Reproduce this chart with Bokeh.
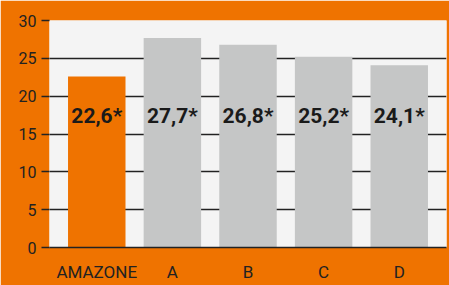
from bokeh.plotting import figure
from bokeh.models import ColumnDataSource, FactorRange, FixedTicker
from bokeh.core.properties import value
from bokeh.embed import file_html
from bokeh.resources import INLINE

categories = ["AMAZONE", "A", "B", "C", "D"]
values = [22.6, 27.7, 26.8, 25.2, 24.1]
labels = ["22,6*", "27,7*", "26,8*", "25,2*", "24,1*"]
bar_colors = ["#EF7300", "#C5C6C6", "#C5C6C6", "#C5C6C6", "#C5C6C6"]
y_ticks = [0, 5, 10, 15, 20, 25, 30]

ORANGE = "#EF7300"
FONT = "Roboto"

src = ColumnDataSource(dict(cat=categories, val=values, lab=labels, col=bar_colors,
                            ly=[17.4] * len(categories)))

p = figure(width=449, height=285, output_backend="svg", toolbar_location=None,
           x_range=FactorRange(factors=categories, range_padding=0.05),
           y_range=(0, 30),
           min_border_left=49, min_border_right=3, min_border_top=20, min_border_bottom=38)

p.background_fill_color = "#F4F4F4"
p.border_fill_color = ORANGE
p.outline_line_color = None

p.vbar(x="cat", top="val", width=0.76, source=src, fill_color="col", line_color=None)
p.text(x="cat", y="ly", text="lab", source=src, text_align="center", text_baseline="middle",
       text_font=value(FONT), text_font_style="bold", text_font_size="21px", text_color="#1a1a1a")

p.yaxis.ticker = FixedTicker(ticks=y_ticks)
p.ygrid.ticker = FixedTicker(ticks=y_ticks)
p.ygrid.grid_line_color = "#222222"
p.ygrid.grid_line_width = 1.6
p.xgrid.grid_line_color = None

p.yaxis.axis_line_color = None
p.yaxis.major_tick_in = 0
p.yaxis.major_tick_out = 8
p.yaxis.major_tick_line_color = "#222222"
p.yaxis.major_tick_line_width = 1.6
p.yaxis.minor_tick_line_color = None
p.yaxis.major_label_text_font = FONT
p.yaxis.major_label_text_font_size = "16px"
p.yaxis.major_label_text_color = "#222222"
p.yaxis.major_label_standoff = 5

p.xaxis.axis_line_color = "#222222"
p.xaxis.axis_line_width = 1.6
p.xaxis.major_tick_in = 0
p.xaxis.major_tick_out = 0
p.xaxis.major_tick_line_color = None
p.xaxis.minor_tick_line_color = None
p.xaxis.major_label_text_font = FONT
p.xaxis.major_label_text_font_size = "17px"
p.xaxis.major_label_text_color = "#222222"
p.xaxis.major_label_standoff = 14

open("out.html", "w").write(file_html(p, INLINE))
